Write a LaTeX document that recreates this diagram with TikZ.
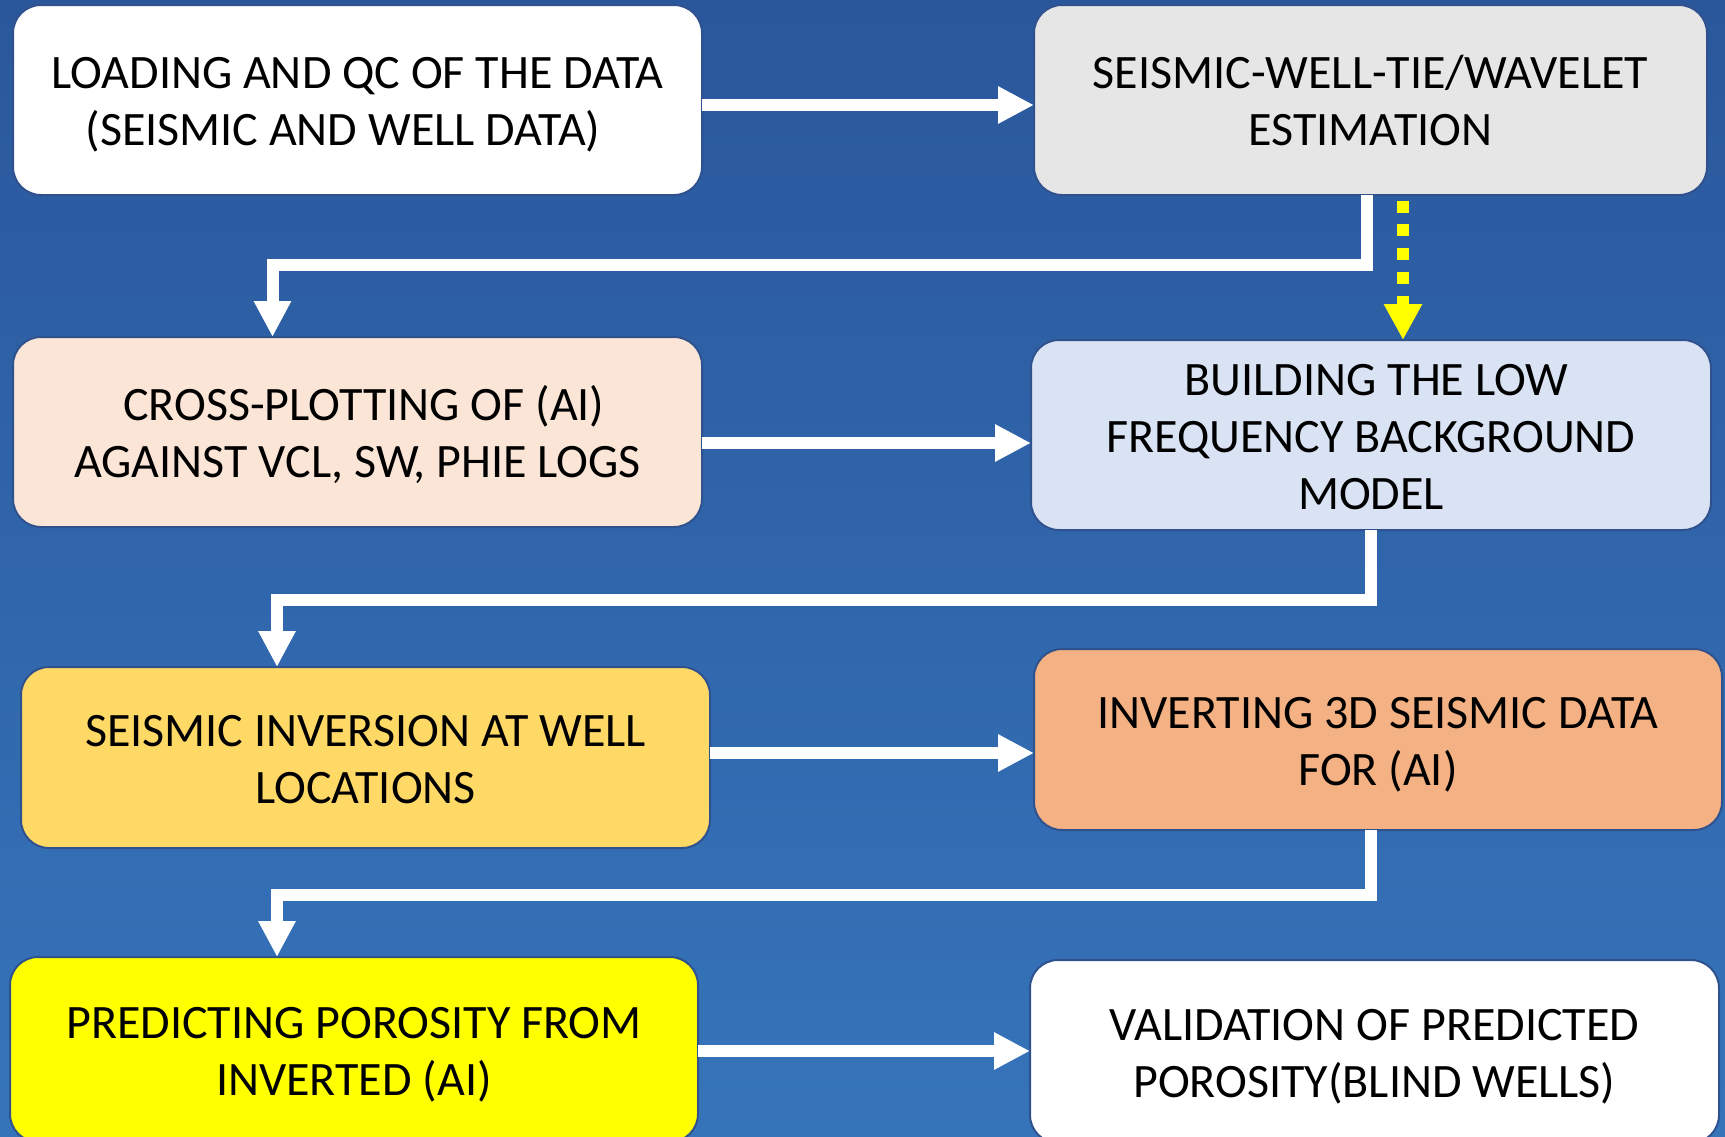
\documentclass[tikz,border=0pt]{standalone}
\usepackage{fontspec}
\setmainfont{Carlito}
\usetikzlibrary{arrows.meta}

\definecolor{bgtop}{HTML}{2A579C}
\definecolor{bgbot}{HTML}{3674BA}
\definecolor{edge}{HTML}{2F528F}
\definecolor{greybox}{HTML}{E6E6E6}
\definecolor{peachbox}{HTML}{FBE5D6}
\definecolor{bluebox}{HTML}{DAE3F3}
\definecolor{goldbox}{HTML}{FFD966}
\definecolor{orangebox}{HTML}{F4B183}
\definecolor{yellowbox}{HTML}{FFFF00}
\definecolor{dashyellow}{HTML}{FFFF00}

% invisible struts fixing the height of the first and the depth of the last line
\newcommand\stepTop{\rule{0pt}{44.5pt}}
\newcommand\stepBot{\rule[-9.6pt]{0pt}{9.6pt}}

\tikzset{
  stepbox/.style={draw=edge, line width=2pt, rounded corners=28pt,
    inner sep=0pt, outer sep=0pt, align=center, text=black,
    font=\fontsize{48}{57}\selectfont},
  flow/.style={draw=white, line width=12pt,
    -{Triangle[width=35pt,length=36pt]}},
  hintflow/.style={draw=dashyellow, line width=12pt,
    dash pattern=on 12pt off 11.7pt, dash phase=18pt,
    -{Triangle[width=36pt,length=36pt,fill=dashyellow]}}
}

\begin{document}
\begin{tikzpicture}[x=1pt, y=-1pt]
  % backdrop
  \useasboundingbox (0,0) rectangle (1725,1136);
  \shade[top color=bgtop, bottom color=bgbot] (0,0) rectangle (1725,1136);

  % process steps
  \node[stepbox, fill=white, minimum width=689pt, minimum height=190pt]
    (load) at (357.5,100) {\stepTop LOADING AND QC OF THE DATA\\(SEISMIC AND WELL DATA)\hspace*{29pt}\stepBot};
  \node[stepbox, fill=greybox, minimum width=673pt, minimum height=190pt]
    (tie) at (1370.5,100) {\stepTop SEISMIC-WELL-TIE/WAVELET\\ESTIMATION\stepBot};
  \node[stepbox, fill=peachbox, minimum width=689pt, minimum height=190pt]
    (xplot) at (357.5,432) {\stepTop\hspace*{13pt}CROSS-PLOTTING OF (AI)\\AGAINST VCL, SW, PHIE LOGS\stepBot};
  \node[stepbox, fill=bluebox, minimum width=680pt, minimum height=190pt]
    (lowf) at (1371,435) {\stepTop\hspace*{11pt}BUILDING THE LOW\\FREQUENCY BACKGROUND\\MODEL\stepBot};
  \node[stepbox, fill=goldbox, minimum width=689pt, minimum height=181pt]
    (wellinv) at (365.5,757.5) {\stepTop SEISMIC INVERSION AT WELL\\LOCATIONS\stepBot};
  \node[stepbox, fill=orangebox, minimum width=688pt, minimum height=181pt]
    (inv3d) at (1378,739.5) {\stepTop INVERTING 3D SEISMIC DATA\\FOR (AI)\stepBot};
  \node[stepbox, fill=yellowbox, minimum width=688pt, minimum height=185pt]
    (poro) at (354,1049.5) {\stepTop PREDICTING POROSITY FROM\\INVERTED (AI)\stepBot};
  \node[stepbox, fill=white, minimum width=689pt, minimum height=183pt]
    (valid) at (1374.5,1051.5) {\stepTop VALIDATION OF PREDICTED\\POROSITY(BLIND WELLS)\stepBot};

  % bend points of the return connectors
  \coordinate (r1a) at (1367,265);
  \coordinate (r1b) at (272.5,265);
  \coordinate (r2a) at (1371,599.5);
  \coordinate (r2b) at (277,599.5);
  \coordinate (r3a) at (1371,895);
  \coordinate (r3b) at (277,895);

  % straight connectors
  \draw[flow] (load.east |- 0,105) -- (tie.west |- 0,105);
  \draw[flow] (xplot.east |- 0,443) -- (lowf.west |- 0,443);
  \draw[flow] (wellinv.east |- 0,753) -- (inv3d.west |- 0,753);
  \draw[flow] (poro.east |- 0,1051) -- (valid.west |- 0,1051);

  % return connectors
  \draw[flow] (r1a |- tie.south) -- (r1a) -- (r1b) -- (r1b |- xplot.north);
  \draw[flow] (r2a |- lowf.south) -- (r2a) -- (r2b) -- (r2b |- wellinv.north);
  \draw[flow] (r3a |- inv3d.south) -- (r3a) -- (r3b) -- (r3b |- poro.north);

  % wavelet feeds the background model
  \coordinate (wv) at (1403,0);
  \draw[hintflow] (wv |- tie.south) -- (wv |- lowf.north);
\end{tikzpicture}
\end{document}
